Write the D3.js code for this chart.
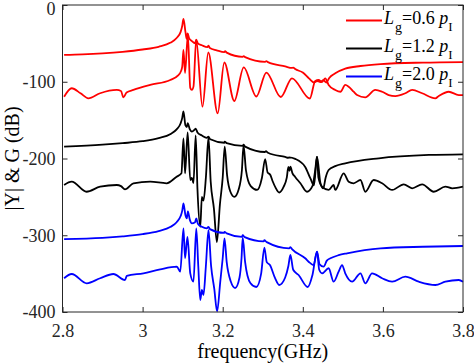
<!DOCTYPE html>
<html><head><meta charset="utf-8">
<script src="https://cdn.jsdelivr.net/npm/d3@7"></script>
<style>body{margin:0;background:#fff}svg{display:block}</style>
</head><body><svg id="c" width="474" height="364"></svg>
<script>
const xTicks=[2.8,3,3.2,3.4,3.6,3.8];
const yTicks=[0,-100,-200,-300,-400];
const legendValues=["0.6","1.2","2.0"];
const colors=["#ff0000","#000000","#0000ff"];

// [frequency GHz, dB]
const redY=[[2.804,-65],[2.85,-64.3],[2.90,-63],[2.95,-61],[3.00,-58],[3.04,-54.5],[3.07,-49],[3.085,-43],[3.095,-35],[3.099,-27],[3.102,-18],
[3.107,-35],[3.110,-44],[3.1125,-37],[3.116,-43],[3.123,-47],[3.131,-50],[3.134,-45],[3.138,-50],[3.148,-52.5],[3.162,-55],[3.1645,-53],[3.168,-56],[3.185,-59],[3.204,-61.5],[3.206,-60],[3.21,-62],[3.25,-67.5],[3.2525,-66.5],[3.256,-68],[3.306,-74],[3.309,-73],[3.313,-74.5],[3.356,-80],[3.373,-82],[3.376,-81.5],[3.381,-83.5],[3.40,-88],[3.416,-96],[3.428,-101],[3.4355,-99],[3.444,-100.5],[3.451,-98],[3.459,-101],[3.466,-95],[3.481,-89],[3.506,-83],[3.544,-79.5],[3.594,-77],[3.70,-75],[3.80,-74.3]];
const redG=[[2.804,-119.5],[2.823,-108.5],[2.845,-115],[2.8645,-121.6],[2.894,-115],[2.9355,-110.7],[2.946,-112],[2.952,-120.3],[2.96,-114],[2.977,-110.7],[3.019,-104.2],[3.069,-97.7],[3.088,-92],[3.096,-86],[3.099,-80],[3.102,-58.6],[3.106,-88.6],[3.113,-39],[3.119,-108],[3.123,-110.7],[3.127,-106.4],[3.1338,-45.6],[3.1495,-132.5],[3.164,-61.9],[3.1875,-141.1],[3.204,-74.9],[3.229,-125.1],[3.2525,-81.4],[3.284,-119.2],[3.309,-88],[3.345,-119.9],[3.373,-95.5],[3.4175,-121.8],[3.431,-99],[3.4395,-97.7],[3.448,-100.3],[3.456,-95.5],[3.4645,-104.2],[3.481,-110.7],[3.494,-113],[3.506,-104.2],[3.5145,-106.4],[3.527,-113],[3.5355,-117.3],[3.556,-120.3],[3.581,-110.7],[3.598,-113],[3.6145,-117.3],[3.631,-118.6],[3.656,-115],[3.673,-110.7],[3.698,-115],[3.731,-121.6],[3.7395,-118.6],[3.7645,-113],[3.7895,-117.3],[3.80,-117.3]];
const blackY=[[2.804,-184.5],[2.90,-182],[2.95,-180],[3.00,-177.5],[3.04,-173.5],[3.07,-168],[3.085,-162],[3.095,-154],[3.099,-147],[3.102,-138.5],[3.107,-157],[3.1105,-159],[3.1125,-154],[3.118,-162],[3.123,-165],[3.1305,-162],[3.1325,-161],[3.137,-166],[3.148,-170],[3.160,-173],[3.1645,-171.6],[3.169,-175],[3.204,-179.5],[3.205,-178],[3.21,-180],[3.25,-183.5],[3.252,-182],[3.256,-184.5],[3.306,-191.5],[3.308,-190.5],[3.313,-192.5],[3.356,-198],[3.364,-199],[3.366,-198.5],[3.381,-200.5],[3.406,-211],[3.419,-226],[3.428,-235],[3.4355,-197.6],[3.444,-232],[3.451,-239],[3.457,-225],[3.4645,-215],[3.481,-210],[3.506,-206.3],[3.59,-199.7],[3.715,-195.4],[3.80,-194.5]];
const blackG=[[2.804,-234.5],[2.823,-230.2],[2.86,-243.3],[2.894,-236.7],[2.9355,-234.5],[2.946,-236],[2.956,-240.1],[2.977,-232.3],[3.019,-230.2],[3.06,-232.3],[3.085,-223.7],[3.097,-219.3],[3.102,-173.7],[3.106,-219.3],[3.1125,-166],[3.119,-228],[3.123,-225.4],[3.127,-232],[3.1325,-170],[3.137,-240],[3.144,-289],[3.148,-250],[3.152,-255],[3.158,-225],[3.1645,-172.6],[3.170,-230],[3.178,-265],[3.1855,-308.8],[3.193,-260],[3.2,-225],[3.205,-184.4],[3.211,-222],[3.219,-243],[3.229,-250],[3.24,-240],[3.248,-215],[3.252,-183],[3.258,-215],[3.270,-236],[3.286,-241],[3.298,-225],[3.306,-200.7],[3.312,-218],[3.319,-221.5],[3.325,-230],[3.332,-238],[3.341,-244.3],[3.352,-237],[3.36,-225],[3.364,-211],[3.367,-216],[3.369,-210.7],[3.374,-219],[3.381,-224],[3.394,-232.3],[3.4105,-243.3],[3.424,-236],[3.431,-215],[3.4355,-197.6],[3.439,-225],[3.448,-236.7],[3.4645,-241],[3.477,-234.5],[3.481,-241],[3.502,-219.3],[3.5145,-230.2],[3.527,-232.3],[3.544,-228],[3.556,-243.3],[3.577,-228],[3.598,-232.3],[3.623,-241],[3.652,-233.6],[3.673,-238.8],[3.698,-233.6],[3.727,-243.3],[3.756,-236.7],[3.773,-238.8],[3.80,-236.7]];
const blueY=[[2.804,-305],[2.90,-303.5],[2.95,-301.5],[3.00,-298.5],[3.04,-294.5],[3.07,-289],[3.085,-283],[3.095,-275],[3.099,-268],[3.102,-258.5],[3.107,-274],[3.1105,-278],[3.113,-269],[3.118,-280],[3.123,-284.4],[3.131,-283],[3.134,-278],[3.138,-285],[3.148,-289],[3.160,-291],[3.1645,-289],[3.168,-292],[3.204,-297],[3.2045,-295.5],[3.21,-297.5],[3.248,-302],[3.25,-300],[3.255,-302.5],[3.302,-308],[3.304,-306.5],[3.31,-309],[3.366,-317],[3.369,-315.5],[3.373,-318],[3.406,-330],[3.418,-336],[3.427,-339],[3.4355,-321.4],[3.442,-338],[3.452,-341],[3.46,-333],[3.469,-330],[3.4895,-326],[3.5105,-323.5],[3.594,-317],[3.70,-315],[3.80,-314]];
const blueG=[[2.804,-356],[2.823,-350.5],[2.8605,-362.6],[2.894,-356],[2.927,-350.5],[2.956,-358.3],[2.9605,-353],[3.002,-349.6],[3.044,-344.4],[3.0855,-341],[3.094,-347.5],[3.102,-291],[3.106,-330],[3.112,-302],[3.119,-349.6],[3.127,-360.5],[3.134,-291],[3.139,-340],[3.144,-384.4],[3.148,-371.3],[3.152,-377.8],[3.158,-340],[3.1645,-293.2],[3.171,-340],[3.179,-370],[3.186,-399.3],[3.194,-360],[3.2,-330],[3.2045,-304],[3.21,-335],[3.22,-360],[3.231,-368.7],[3.242,-355],[3.247,-330],[3.25,-303],[3.256,-335],[3.269,-362.2],[3.284,-367.4],[3.296,-350],[3.304,-316],[3.31,-335],[3.318,-338.8],[3.33,-355],[3.341,-364.8],[3.356,-355],[3.364,-340],[3.369,-325.7],[3.376,-345],[3.3895,-351.8],[3.4125,-367.4],[3.424,-352],[3.4355,-321.4],[3.441,-345],[3.448,-349.6],[3.4645,-343],[3.477,-360.5],[3.4895,-347.5],[3.498,-338.8],[3.506,-349.6],[3.523,-360.5],[3.544,-349.6],[3.556,-362.6],[3.573,-349.6],[3.598,-356],[3.623,-360.5],[3.656,-354],[3.6895,-360.5],[3.731,-364.8],[3.756,-360.5],[3.7895,-358.3],[3.80,-360.5]];

const series=[{Y:redY,G:redG},{Y:blackY,G:blackG},{Y:blueY,G:blueG}];

const svg=d3.select("#c");
const m={l:62.5,t:5,r:463,b:312};
const font='"Liberation Serif","Times New Roman",serif';
const axisColor="#262626";
const x=d3.scaleLinear().domain([2.8,3.8]).range([m.l,m.r]);
const y=d3.scaleLinear().domain([-400,0]).range([m.b,m.t]);

const line=d3.line().x(d=>x(d[0])).y(d=>y(d[1])).curve(d3.curveMonotoneX);
series.forEach((s,i)=>{
  [s.Y,s.G].forEach(arr=>{
    svg.append("path").attr("d",line(arr)).attr("fill","none")
      .attr("stroke",colors[i]).attr("stroke-width",1.8).attr("stroke-linejoin","round");
  });
});

function styleAxis(g){
  g.attr("font-family",font).attr("font-size",18).attr("color",axisColor);
  g.select(".domain").remove();
}
svg.append("g").attr("transform",`translate(0,${m.b})`)
  .call(d3.axisBottom(x).tickValues(xTicks).tickSizeInner(-5).tickSizeOuter(0).tickPadding(12).tickFormat(d=>String(d)))
  .call(styleAxis);
svg.append("g").attr("transform",`translate(0,${m.t})`)
  .call(d3.axisTop(x).tickValues(xTicks).tickSizeInner(-5).tickSizeOuter(0).tickFormat(""))
  .call(styleAxis);
const yAxisG=svg.append("g").attr("transform",`translate(${m.l},0)`)
  .call(d3.axisLeft(y).tickValues(yTicks).tickSizeInner(-5).tickSizeOuter(0).tickPadding(7).tickFormat(d=>String(d)))
  .call(styleAxis);
yAxisG.selectAll(".tick text").filter(d=>d===0).attr("dy","0.5em");
svg.append("g").attr("transform",`translate(${m.r},0)`)
  .call(d3.axisRight(y).tickValues(yTicks).tickSizeInner(-5).tickSizeOuter(0).tickFormat(""))
  .call(styleAxis);
svg.append("rect").attr("x",m.l).attr("y",m.t).attr("width",m.r-m.l).attr("height",m.b-m.t)
  .attr("fill","none").attr("stroke",axisColor).attr("stroke-width",1);

svg.append("text").attr("x",(m.l+m.r)/2).attr("y",358).attr("text-anchor","middle")
  .attr("font-family",font).attr("font-size",20).attr("fill","#000").text("frequency(GHz)");
svg.append("text").attr("transform",`translate(19,${(m.t+m.b)/2}) rotate(-90)`).attr("text-anchor","middle")
  .attr("font-family",font).attr("font-size",20).attr("fill","#000").text("|Y| & G (dB)");

// legend
legendValues.forEach((v,i)=>{
  const base=24+i*28;
  svg.append("line").attr("x1",346).attr("x2",382).attr("y1",base-3.5).attr("y2",base-3.5)
    .attr("stroke",colors[i]).attr("stroke-width",1.8);
  const t=svg.append("text").attr("x",384).attr("y",base).attr("font-family",font).attr("font-size",18).attr("fill","#000");
  t.append("tspan").attr("font-style","italic").text("L");
  t.append("tspan").attr("font-size",14).attr("dy",8).attr("dx",1).text("g");
  t.append("tspan").attr("dy",-8).text("="+v+" ");
  t.append("tspan").attr("font-style","italic").text("p");
  t.append("tspan").attr("font-size",13).attr("dy",7).text("I");
});
</script></body></html>
